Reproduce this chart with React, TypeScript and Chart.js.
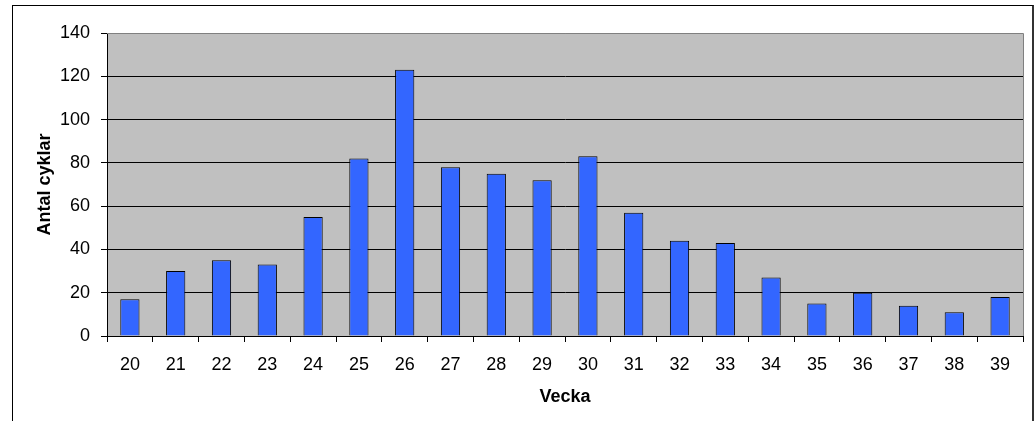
import React, { useEffect, useRef } from "react";
import { Chart, registerables } from "chart.js";

Chart.register(...registerables);

const weeks: string[] = ["20", "21", "22", "23", "24", "25", "26", "27", "28", "29", "30", "31", "32", "33", "34", "35", "36", "37", "38", "39"];
const cycles: number[] = [17, 30, 35, 33, 55, 82, 123, 78, 75, 72, 83, 57, 44, 43, 27, 15, 20, 14, 11, 18];
const yTicks: number[] = [0, 20, 40, 60, 80, 100, 120, 140];
const xTitle = "Vecka";
const yTitle = "Antal cyklar";

const FONT = "Arial, 'Liberation Sans', sans-serif";

const plotBg = {
  id: "plotBg",
  beforeDraw(chart: any) {
    const { ctx, chartArea } = chart;
    ctx.save();
    ctx.fillStyle = "#C0C0C0";
    ctx.fillRect(chartArea.left, chartArea.top, chartArea.right - chartArea.left, chartArea.bottom - chartArea.top);
    ctx.restore();
  },
  afterDatasetsDraw(chart: any) {
    const { ctx, chartArea } = chart;
    ctx.save();
    ctx.strokeStyle = "#808080";
    ctx.lineWidth = 1;
    ctx.beginPath();
    ctx.moveTo(chartArea.left, chartArea.top + 0.5);
    ctx.lineTo(chartArea.right + 0.5, chartArea.top + 0.5);
    ctx.lineTo(chartArea.right + 0.5, chartArea.bottom);
    ctx.stroke();
    ctx.restore();
  },
};

export default function App() {
  const ref = useRef<HTMLCanvasElement | null>(null);
  useEffect(() => {
    if (!ref.current) return;
    const chart = new Chart(ref.current, {
      type: "bar",
      data: {
        labels: weeks,
        datasets: [
          {
            data: cycles,
            backgroundColor: "#3366FF",
            borderColor: "#000000",
            borderWidth: 1,
            barPercentage: 0.42,
            categoryPercentage: 1,
          },
        ],
      },
      options: {
        animation: false,
        responsive: false,
        maintainAspectRatio: false,
        layout: { padding: { left: 0, top: 33, right: 12, bottom: 0 } },
        plugins: { legend: { display: false }, tooltip: { enabled: false } },
        scales: {
          x: {
            afterFit: (s: any) => {
              s.height = 85;
            },
            grid: { drawOnChartArea: false, drawTicks: true, tickLength: 6, color: "#000000", offset: true },
            border: { color: "#000000", width: 1 },
            ticks: { color: "#000000", font: { family: FONT, size: 18 }, padding: 12, maxRotation: 0 },
            title: {
              display: true,
              text: xTitle,
              color: "#000000",
              font: { family: FONT, size: 18, weight: "bold" },
              padding: { top: 0, bottom: 13 },
            },
          },
          y: {
            min: 0,
            max: 140,
            afterFit: (s: any) => {
              s.width = 107;
            },
            afterBuildTicks: (s: any) => {
              s.ticks = yTicks.map((v) => ({ value: v }));
            },
            grid: {
              color: (c: any) => (c.tick && c.tick.value === 140 ? "#808080" : "#000000"),
              tickColor: "#000000",
              tickLength: 6,
              lineWidth: 1,
            },
            border: { color: "#000000", width: 1 },
            ticks: { color: "#000000", font: { family: FONT, size: 18 }, padding: 11 },
            title: {
              display: true,
              text: yTitle,
              color: "#000000",
              font: { family: FONT, size: 18, weight: "bold" },
              padding: { top: 34, bottom: 0 },
            },
          },
        },
      },
      plugins: [plotBg],
    });
    return () => chart.destroy();
  }, []);

  return (
    <div style={{ position: "fixed", left: 0, top: 0, width: 1035, height: 421, background: "#fff", overflow: "hidden" }}>
      <div
        style={{
          position: "absolute",
          left: 12,
          top: 5,
          width: 1019,
          height: 500,
          borderLeft: "1px solid #000",
          borderTop: "1px solid #000",
          borderRight: "2px solid #333",
        }}
      />
      <canvas ref={ref} width={1035} height={421} style={{ position: "absolute", left: 0, top: 0, width: 1035, height: 421 }} />
    </div>
  );
}
